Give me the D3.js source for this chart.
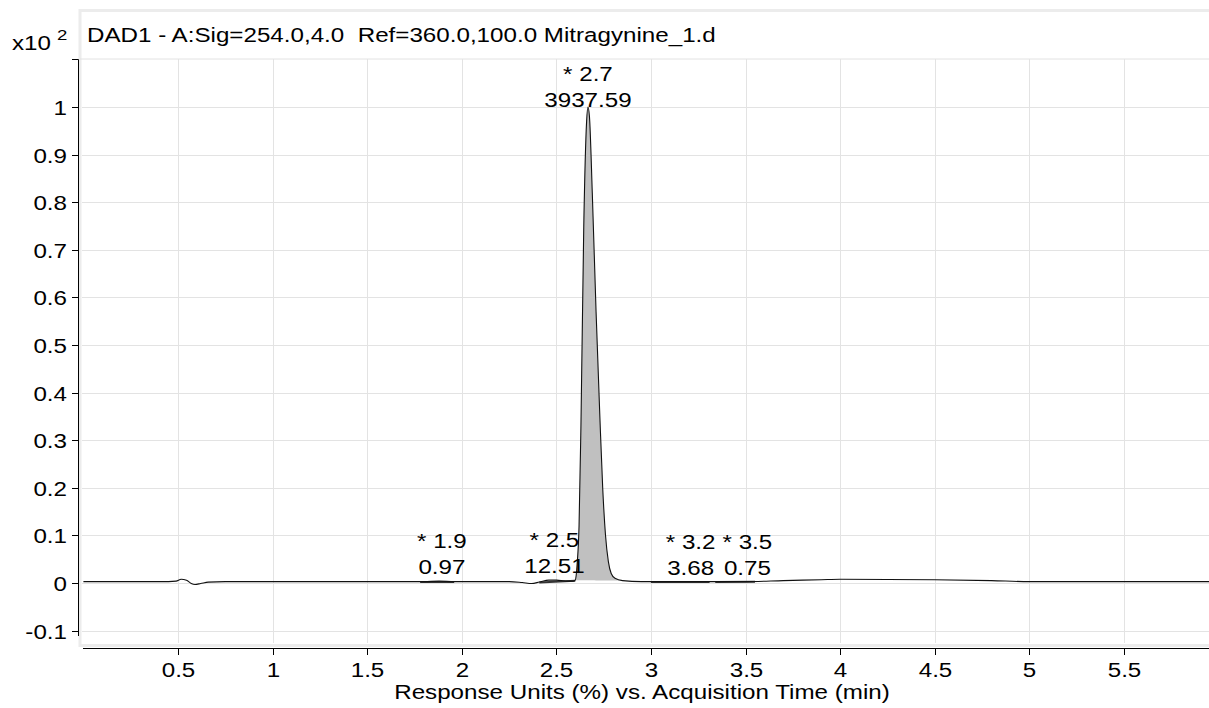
<!DOCTYPE html>
<html>
<head>
<meta charset="utf-8">
<script src="https://cdn.jsdelivr.net/npm/d3@7"></script>
<style>
  html, body { margin: 0; padding: 0; background: #fff; }
  svg { display: block; }
  text { font-family: "Liberation Sans", Arial, sans-serif; fill: #000; white-space: pre; }
</style>
</head>
<body>
<svg id="chart" width="1209" height="708"></svg>
<script>
// 信号数据（时间 min，响应 x10^2）
const signalTime = [0.00, 0.45, 0.49, 0.517, 0.545, 0.57, 0.59, 0.62, 0.66, 0.75, 1.50, 1.80, 1.88, 1.96,
  2.25, 2.32, 2.37, 2.41, 2.46, 2.50, 2.55, 2.59, 2.60, 2.61, 2.62, 2.63, 2.645, 2.66, 2.667, 2.675,
  2.69, 2.71, 2.73, 2.745, 2.76, 2.775, 2.79, 2.81, 2.85, 2.95, 3.20, 3.50, 3.70, 3.90, 4.00, 4.50,
  4.80, 5.00, 5.95];
const signalValue = [0.003, 0.003, 0.004, 0.008, 0.006, -0.001, -0.003, -0.001, 0.002, 0.003, 0.003, 0.003, 0.004, 0.003,
  0.003, 0.001, -0.001, 0.002, 0.006, 0.006, 0.004, 0.004, 0.006, 0.04, 0.12, 0.33, 0.75, 0.97, 1.0, 0.98,
  0.82, 0.57, 0.35, 0.20, 0.10, 0.045, 0.02, 0.01, 0.005, 0.003, 0.003, 0.003, 0.005, 0.007, 0.008, 0.007,
  0.005, 0.003, 0.003];

// 积分峰
const peakRT = [1.895, 2.49, 2.667, 3.21, 3.51];
const peakArea = ['0.97', '12.51', '3937.59', '3.68', '0.75'];
const peakStart = [1.78, 2.41, 2.60, 3.00, 3.34];
const peakEnd = [1.96, 2.60, 2.85, 3.31, 3.55];

// 坐标轴
const xTicks = [0.5, 1, 1.5, 2, 2.5, 3, 3.5, 4, 4.5, 5, 5.5];
const yTicks = [-0.1, 0, 0.1, 0.2, 0.3, 0.4, 0.5, 0.6, 0.7, 0.8, 0.9, 1];
const titleText = 'DAD1 - A:Sig=254.0,4.0  Ref=360.0,100.0 Mitragynine_1.d';
const xTitle = 'Response Units (%) vs. Acquisition Time (min)';

const FS = 19.5, SX = 1.24;
const svg = d3.select('#chart');

const plotLeft = 80, plotTop = 59, plotBottom = 643, plotRight = 1209;
const x = d3.scaleLinear().domain([0, 5.95]).range([83.4, 1209]);
const y = d3.scaleLinear().domain([-0.126, 1.101]).range([plotBottom, plotTop]);

const signal = signalTime.map((t, i) => ({ t, v: signalValue[i] }));
const valueAt = t => {
  const i = d3.bisector(d => d.t).left(signal, t);
  if (i <= 0) return signal[0].v;
  if (i >= signal.length) return signal[signal.length - 1].v;
  const a = signal[i - 1], b = signal[i];
  return a.v + (b.v - a.v) * (t - a.t) / (b.t - a.t);
};

// 拉伸文字
const addText = (g, str, px, py, anchor, size) => g.append('text')
  .attr('transform', `translate(${px},${py}) scale(${SX},1)`)
  .attr('text-anchor', anchor)
  .attr('xml:space', 'preserve')
  .style('font-size', (size || FS) + 'px')
  .text(str);

// 面板框
svg.append('rect')
  .attr('x', plotLeft).attr('y', 10.5)
  .attr('width', 1140).attr('height', 635)
  .attr('fill', '#fff').attr('stroke', '#ececec').attr('stroke-width', 3);
svg.append('line')
  .attr('x1', plotLeft).attr('x2', plotRight)
  .attr('y1', plotTop).attr('y2', plotTop)
  .attr('stroke', '#e2e2e2');

addText(svg, titleText, 87, 42, 'start');
addText(svg, 'x10', 12, 50, 'start');
addText(svg, '2', 57, 40, 'start', 15);

svg.append('defs').append('clipPath').attr('id', 'clip')
  .append('rect').attr('x', plotLeft + 2).attr('y', plotTop + 1)
  .attr('width', plotRight - plotLeft).attr('height', plotBottom - plotTop - 1);

// 网格
const grid = svg.append('g').attr('stroke', '#e3e3e3').attr('stroke-width', 1);
grid.selectAll('line.v').data(xTicks).join('line')
  .attr('class', 'v')
  .attr('x1', d => Math.round(x(d)) + 0.5).attr('x2', d => Math.round(x(d)) + 0.5)
  .attr('y1', plotTop).attr('y2', plotBottom);
grid.selectAll('line.h').data(yTicks).join('line')
  .attr('class', 'h')
  .attr('x1', plotLeft + 2).attr('x2', plotRight)
  .attr('y1', d => Math.round(y(d)) + 0.5).attr('y2', d => Math.round(y(d)) + 0.5);

// 峰面积填充
const plot = svg.append('g').attr('clip-path', 'url(#clip)');
peakRT.forEach((rt, i) => {
  const s = peakStart[i], e = peakEnd[i];
  const pts = [{ t: s, v: valueAt(s) }]
    .concat(signal.filter(d => d.t > s && d.t < e))
    .concat([{ t: e, v: valueAt(e) }]);
  const b0 = pts[0].v, b1 = pts[pts.length - 1].v;
  const base = t => b0 + (b1 - b0) * (t - s) / (e - s);
  const apex = d3.max(pts, d => d.v);
  if (apex > 0.1) {
    plot.append('path').datum(pts)
      .attr('fill', '#c0c0c0')
      .attr('d', d3.area().x(d => x(d.t)).y0(d => y(base(d.t))).y1(d => y(d.v)).curve(d3.curveMonotoneX));
  } else {
    plot.append('line')
      .attr('x1', x(s)).attr('x2', x(e))
      .attr('y1', y(b0) + 0.5).attr('y2', y(b1) + 0.5)
      .attr('stroke', '#333').attr('stroke-width', 2);
  }
});

// 信号线
plot.append('path').datum(signal)
  .attr('fill', 'none').attr('stroke', '#111').attr('stroke-width', 1.1)
  .attr('d', d3.line().x(d => x(d.t)).y(d => y(d.v)).curve(d3.curveMonotoneX));

// 峰标注
peakRT.forEach((rt, i) => {
  const apex = d3.max(signal.filter(d => d.t >= peakStart[i] && d.t <= peakEnd[i]), d => d.v);
  const by = Math.max(y(apex) - 7, plotTop + 48);
  addText(svg, '* ' + rt.toFixed(1), x(rt), by - 26, 'middle');
  addText(svg, peakArea[i], x(rt), by, 'middle');
});

// Y 轴
const yAxis = svg.append('g');
yAxis.append('path')
  .attr('d', `M72,${plotTop + 0.5}H78.5V636`)
  .attr('fill', 'none').attr('stroke', '#000');
yTicks.forEach(d => {
  const py = Math.round(y(d)) + 0.5;
  yAxis.append('line').attr('x1', 72).attr('x2', 78).attr('y1', py).attr('y2', py).attr('stroke', '#000');
  addText(yAxis, String(+d.toFixed(1)), 67, py + 7, 'end');
});

// X 轴
const xAxis = svg.append('g').attr('transform', 'translate(0,648)');
xAxis.append('line').attr('x1', 83).attr('x2', plotRight).attr('y1', 0.5).attr('y2', 0.5).attr('stroke', '#000');
xTicks.forEach(d => {
  const px = Math.round(x(d)) + 0.5;
  xAxis.append('line').attr('x1', px).attr('x2', px).attr('y1', 0).attr('y2', 7).attr('stroke', '#000');
  addText(xAxis, String(d), px, 29, 'middle');
});
addText(svg, xTitle, 642, 699, 'middle');
</script>
</body>
</html>
